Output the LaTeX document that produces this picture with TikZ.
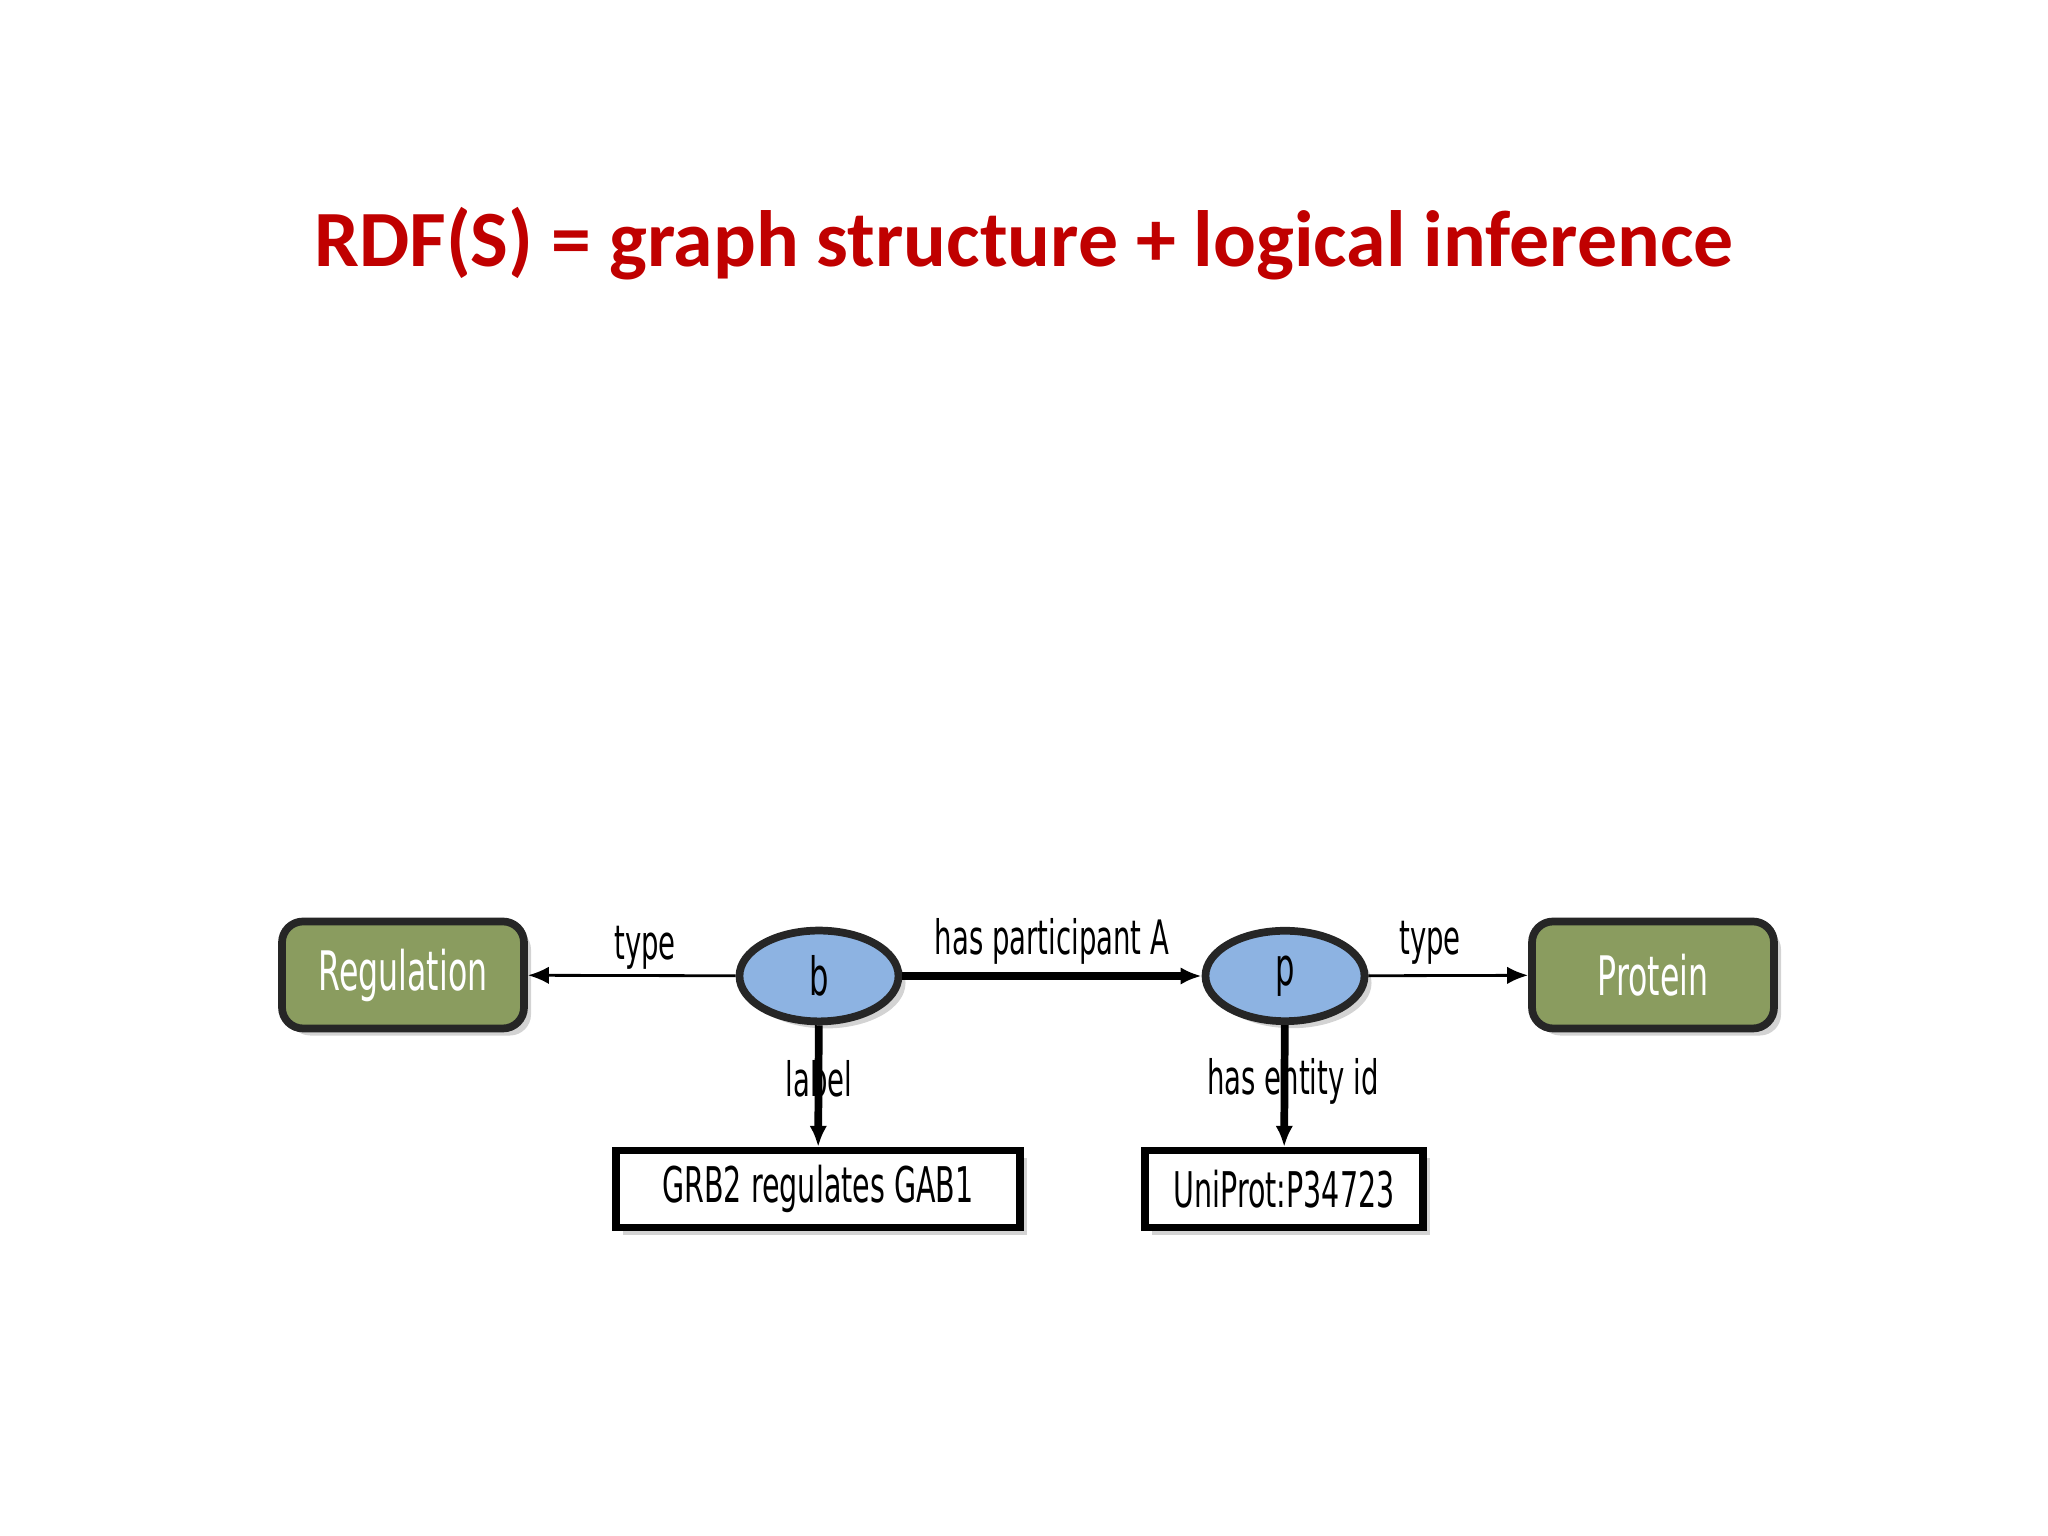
\documentclass[tikz,border=0pt]{standalone}
\usepackage{fontspec}
\setmainfont{Carlito}
\newfontfamily\cond[FakeStretch=0.58]{DejaVu Sans}
\usetikzlibrary{shapes.geometric,arrows.meta,shadows}
\definecolor{titlered}{HTML}{C00000}
\definecolor{olive}{HTML}{8A9C5F}
\definecolor{ellblue}{HTML}{8DB3E2}
\tikzset{
  cls/.style={draw=black!85,line width=2.2pt,rounded corners=6pt,fill=olive,minimum width=2.42cm,minimum height=1.07cm,text=white,font=\cond\fontsize{15.5}{17}\selectfont,drop shadow={opacity=0.35,shadow xshift=2pt,shadow yshift=-2pt}},
  res/.style={ellipse,draw=black!85,line width=2.2pt,fill=ellblue,minimum width=1.59cm,minimum height=0.81cm,font=\cond\fontsize{15}{17}\selectfont,drop shadow={opacity=0.35,shadow xshift=2pt,shadow yshift=-2pt}},
  lit/.style={draw=black,line width=2pt,fill=white,minimum height=0.77cm,font=\cond\fontsize{14}{16}\selectfont,drop shadow={opacity=0.35,shadow xshift=2pt,shadow yshift=-2pt}},
  thin/.style={line width=0.8pt,-{Latex[length=6pt,width=5pt]}},
  thick/.style={line width=2.2pt,-{Latex[length=6pt,width=5pt]}},
  el/.style={font=\cond\fontsize{13.5}{15}\selectfont}
}
\begin{document}
\begin{tikzpicture}
\useasboundingbox (0,0) rectangle (20.48,15.36);
\node[text=titlered,font=\fontsize{22.7}{27}\selectfont\bfseries] (t) at (10.24,12.92) {RDF(S) = graph structure + logical inference};
\node[cls] (reg) at (4.03,5.61) {Regulation};
\node[cls] (prot) at (16.53,5.61) {Protein};
\node[res] (b) at (8.19,5.60) {b};
\node[res] (p) at (12.85,5.60) {p};
\node[lit,minimum width=4.04cm] (grb) at (8.18,3.47) {GRB2 regulates GAB1};
\node[lit,minimum width=2.78cm] (uni) at (12.84,3.47) {UniProt:P34723};
\draw[thin] (b) -- (reg);
\draw[thin] (p) -- (prot);
\draw[thick] (b) -- (p);
\draw[thick] (b) -- (grb);
\draw[thick] (p) -- (uni);
\node[el] (l1) at (6.45,5.88) {type};
\node[el] (l2) at (10.52,5.95) {has participant A};
\node[el] (l3) at (14.30,5.93) {type};
\node[el] (l4) at (8.19,4.57) {label};
\node[el] (l5) at (12.93,4.55) {has entity id};
\end{tikzpicture}
\end{document}
